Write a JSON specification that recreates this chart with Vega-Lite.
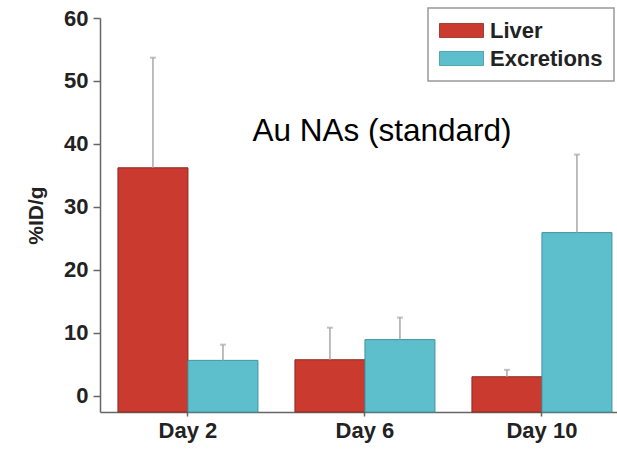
{
  "$schema": "https://vega.github.io/schema/vega-lite/v6.json",
  "width": 517,
  "height": 394,
  "autosize": {"type": "none"},
  "padding": {"left": 100, "top": 18, "right": 0, "bottom": 38},
  "background": "white",
  "config": {
    "view": {"stroke": null},
    "axis": {
      "grid": false,
      "domainColor": "#666666",
      "domainWidth": 1.5,
      "tickColor": "#666666",
      "tickWidth": 1.5,
      "labelFont": "Liberation Sans",
      "labelFontWeight": "bold",
      "labelFontSize": 22,
      "labelColor": "#222222",
      "titleFont": "Liberation Sans",
      "titleFontWeight": "bold",
      "titleFontSize": 21,
      "titleColor": "#222222"
    },
    "legend": {
      "labelFont": "Liberation Sans",
      "labelFontWeight": "bold",
      "labelFontSize": 22,
      "labelColor": "#222222"
    }
  },
  "data": {
    "values": [
      {"day": "Day 2", "organ": "Liver", "value": 36.2, "upper": 53.7},
      {"day": "Day 2", "organ": "Excretions", "value": 5.6, "upper": 8.1},
      {"day": "Day 6", "organ": "Liver", "value": 5.7, "upper": 10.8},
      {"day": "Day 6", "organ": "Excretions", "value": 8.9, "upper": 12.4},
      {"day": "Day 10", "organ": "Liver", "value": 3.0, "upper": 4.1},
      {"day": "Day 10", "organ": "Excretions", "value": 25.9, "upper": 38.3}
    ]
  },
  "encoding": {
    "x": {
      "field": "day",
      "type": "nominal",
      "sort": ["Day 2", "Day 6", "Day 10"],
      "scale": {"paddingInner": 0.209, "paddingOuter": 0.065, "align": 0.78},
      "axis": {"title": null, "labelAngle": 0, "tickSize": 4, "labelPadding": 4}
    },
    "xOffset": {
      "field": "organ",
      "type": "nominal",
      "sort": ["Liver", "Excretions"],
      "scale": {"paddingInner": 0, "paddingOuter": 0}
    }
  },
  "layer": [
    {
      "mark": {"type": "bar", "strokeWidth": 1},
      "encoding": {
        "y": {
          "field": "value",
          "type": "quantitative",
          "scale": {"domain": [-2.6, 60], "nice": false, "zero": false},
          "axis": {
            "title": "%ID/g",
            "values": [0, 5, 10, 15, 20, 25, 30, 35, 40, 45, 50, 55, 60],
            "labelExpr": "datum.value % 10 === 0 ? datum.label : ''",
            "tickSize": {"condition": {"test": "datum.value % 10 === 0", "value": 7}, "value": 4},
            "labelPadding": 5,
            "titlePadding": 17
          }
        },
        "y2": {"datum": -2.6},
        "fill": {
          "field": "organ",
          "type": "nominal",
          "sort": ["Liver", "Excretions"],
          "scale": {"domain": ["Liver", "Excretions"], "range": ["#CB3A2F", "#5CBFCB"]},
          "legend": {
            "title": null,
            "orient": "none",
            "legendX": 328,
            "legendY": -10,
            "padding": 11,
            "strokeColor": "#999999",
            "symbolType": "M-1,-0.64H3V0.64H-1Z",
            "symbolSize": 484,
            "symbolStrokeColor": "#6a2a22",
            "symbolStrokeWidth": 0.8,
            "labelOffset": 28,
            "rowPadding": 5,
            "encode": {"legend": {"update": {"strokeWidth": {"value": 1.5}}}}
          }
        },
        "stroke": {
          "field": "organ",
          "type": "nominal",
          "scale": {"domain": ["Liver", "Excretions"], "range": ["#8A2A20", "#3E95A0"]},
          "legend": null
        }
      }
    },
    {
      "mark": {"type": "rule", "color": "#A8A8A8", "strokeWidth": 1.5},
      "encoding": {
        "y": {"field": "value", "type": "quantitative"},
        "y2": {"field": "upper"}
      }
    },
    {
      "mark": {"type": "tick", "color": "#A8A8A8", "size": 6, "thickness": 2},
      "encoding": {
        "y": {"field": "upper", "type": "quantitative"}
      }
    },
    {
      "data": {"values": [{"label": "Au NAs (standard)"}]},
      "mark": {"type": "text", "font": "Liberation Sans", "fontSize": 31.5, "color": "#000000", "align": "center", "baseline": "alphabetic", "dx": 17},
      "encoding": {
        "x": {"datum": "Day 6"},
        "xOffset": null,
        "y": {"datum": 40.5},
        "text": {"field": "label"}
      }
    }
  ]
}
